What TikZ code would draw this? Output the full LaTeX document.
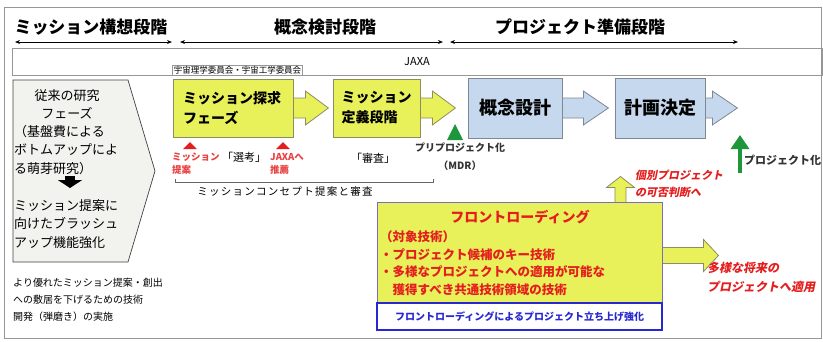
\documentclass[tikz,border=0pt]{standalone}
\usepackage{fontspec}
\setmainfont{Noto Sans CJK JP}
\newfontfamily\slantjp[FakeSlant=0.2]{Noto Sans CJK JP}
\usepackage{tikz}
\usetikzlibrary{positioning, arrows.meta, backgrounds}
\definecolor{boxyellow}{RGB}{232,240,90}
\definecolor{yellowline}{RGB}{140,140,95}
\definecolor{boxblue}{RGB}{198,216,238}
\definecolor{blueline}{RGB}{125,135,150}
\definecolor{flline}{RGB}{120,110,190}
\definecolor{noteblue}{RGB}{40,40,210}
\definecolor{textred}{RGB}{228,30,30}
\definecolor{pjgreen}{RGB}{30,150,60}
\definecolor{frameline}{RGB}{150,150,150}
\definecolor{boxgray}{RGB}{242,242,238}

\begin{document}
\begin{tikzpicture}[x=1pt, y=-1pt,
    stage/.style={font=\fontsize{17}{20}\selectfont\bfseries, inner sep=0pt},
    span/.style={{Stealth[length=5pt,width=4pt]}-{Stealth[length=5pt,width=4pt]}, line width=0.9pt},
    ybox/.style={draw=yellowline, fill=boxyellow, line width=0.8pt, font=\fontsize{14}{20}\selectfont\bfseries, align=left, minimum height=58pt},
    bbox/.style={draw=blueline, fill=boxblue, line width=0.8pt, font=\fontsize{18}{20}\selectfont\bfseries, minimum height=60pt},
    yarrow/.style={draw=yellowline, fill=boxyellow, line width=0.8pt},
    barrow/.style={draw=blueline, fill=boxblue, line width=0.8pt},
    lbtext/.style={font=\fontsize{13}{18.5}\selectfont, inner sep=0pt},
    note/.style={font=\fontsize{10}{17}\selectfont, inner sep=0pt, align=left},
    rednote/.style={font=\fontsize{9.5}{13}\selectfont\bfseries, text=textred!85, inner sep=0pt, align=left},
    slantnote/.style={text=textred, inner sep=0pt, align=left},
    redtri/.style={fill=textred},
]
\useasboundingbox (0,0) rectangle (823,341);
\draw[frameline] (4,7) rectangle (821,338);

% stages
\node[stage] (hd1) at (91,27) {ミッション構想段階};
\node[stage] (hd2) at (325,27) {概念検討段階};
\node[stage] (hd3) at (580,27) {プロジェクト準備段階};
\coordinate (s1a) at (15,42);  \coordinate (s1b) at (172,42);
\coordinate (s2a) at (180,42); \coordinate (s2b) at (443,42);
\coordinate (s3a) at (450,42); \coordinate (s3b) at (738,42);
\draw[span] (s1a) -- (s1b);
\draw[span] (s2a) -- (s2b);
\draw[span] (s3a) -- (s3b);

% JAXA band
\node[draw=frameline, minimum width=810pt, minimum height=27pt, inner sep=0pt,
      font=\fontsize{11}{12}\selectfont] (jaxa) at (417,61.5) {JAXA};
\node[draw=frameline, fill=white, font=\fontsize{8.5}{10}\selectfont, inner sep=1.2pt] (iin) at (237.5,70) {宇宙理学委員会・宇宙工学委員会};

% left phase
\draw[black!75, fill=boxgray, line width=0.7pt] (13,80) -- (128,80) -- (155,171) -- (128,262) -- (13,262) -- cycle;
\node[lbtext, align=center] (lb1) at (67,104.5) {従来の研究\\フェーズ};
\node[lbtext, align=left, anchor=west] (lb2) at (14,150) {（基盤費による\\ボトムアップによ\\る萌芽研究）};
\node[lbtext, align=left, anchor=west] (lb3) at (14,224) {ミッション提案に\\向けたブラッシュ\\アップ機能強化};
\coordinate (dn) at (70,176);
\draw[-{Triangle[width=24pt,length=8pt]}, line width=10pt] (dn) -- ++(0,12);
\node[note, anchor=west] (lbnote) at (13,300) {より優れたミッション提案・創出\\への敷居を下げるための技術\\開発（弾磨き）の実施};

% mission boxes
\node[ybox, text width=100pt, inner xsep=10pt] (tanq) at (233,108) {ミッション探求\\フェーズ};
\node[ybox, text width=70pt, inner xsep=8.5pt] (teigi) at (376.5,108) {ミッション\\定義段階};
\node[bbox, minimum width=94pt] (gainen) at (515,108) {概念設計};
\node[bbox, minimum width=90pt] (keikaku) at (660,108) {計画決定};

% front loading
\node[draw=flline, fill=boxyellow, line width=1pt, minimum width=285pt, minimum height=101pt] (fl) at (519.5,252.5) {};
\node[font=\fontsize{14}{16}\selectfont\bfseries, text=textred] (fltitle) at (520,217) {フロントローディング};
\node[font=\fontsize{12.5}{17.5}\selectfont\bfseries, text=textred, align=left, anchor=north west, inner sep=0pt] (fllist) at (380,231)
    {（対象技術）\\・プロジェクト候補のキー技術\\・多様なプロジェクトへの適用が可能な\\　獲得すべき共通技術領域の技術};
\node[draw=noteblue, line width=1.5pt, fill=white, minimum width=285pt, minimum height=27pt,
      font=\fontsize{10}{12}\selectfont\bfseries, text=noteblue] (flnote) at (519.5,316.5) {フロントローディングによるプロジェクト立ち上げ強化};

\begin{scope}[on background layer]
\draw[yarrow] (tanq.east) ++(-3,-10) -- ++(15,0) -- ++(0,-7) -- ++(23,17) -- ++(-23,17) -- ++(0,-7) -- ++(-15,0) -- cycle;
\draw[yarrow] (teigi.east) ++(-3,-10) -- ++(15,0) -- ++(0,-7) -- ++(23,17) -- ++(-23,17) -- ++(0,-7) -- ++(-15,0) -- cycle;
\draw[barrow] (gainen.east) ++(-3,-10) -- ++(24,0) -- ++(0,-7) -- ++(25,17) -- ++(-25,17) -- ++(0,-7) -- ++(-24,0) -- cycle;
\draw[barrow] (keikaku.east) ++(-3,-10) -- ++(10,0) -- ++(0,-7) -- ++(25,17) -- ++(-25,17) -- ++(0,-7) -- ++(-10,0) -- cycle;
\draw[yarrow] (fl.north east) ++(-47.5,3) -- ++(0,-17) -- ++(-8.5,0) -- ++(14,-11) -- ++(14,11) -- ++(-8.5,0) -- ++(0,17) -- cycle;
\draw[yarrow] (fl.east) ++(-3,-5) -- ++(44,0) -- ++(0,-8) -- ++(15,16) -- ++(-15,16) -- ++(0,-8) -- ++(-44,0) -- cycle;
\end{scope}

% proposals and reviews
\fill[redtri] (183,149) -- (190,142) -- (197,149) -- cycle;
\fill[redtri] (276,149) -- (283,142) -- (290,149) -- cycle;
\node[rednote, anchor=west] (teian) at (172,163.5) {ミッション\\提案};
\node[font=\fontsize{11}{12}\selectfont, inner sep=0pt] (senko) at (244,157) {「選考」};
\node[rednote, anchor=west] (suisen) at (270,163.5) {JAXAへ\\推薦};
\node[font=\fontsize{11}{12}\selectfont, inner sep=0pt] (shinsa) at (373,158) {「審査」};
\coordinate (brL) at (175,182);
\coordinate (brR) at (433,182);
\draw[black!60, line width=0.6pt] (brL) ++(0,-3) -- (brL) -- (brR) -- ++(0,-3);
\node[font=\fontsize{10.5}{12}\selectfont\addfontfeature{LetterSpace=12}, inner sep=0pt] (concept) at (285,192) {ミッションコンセプト提案と審査};

% project milestones
\fill[pjgreen] (447,140) -- (455,124) -- (463,140) -- cycle;
\node[font=\fontsize{10}{18}\selectfont\bfseries, text=black!80, align=center, inner sep=0pt] (mdr) at (460,157) {プリプロジェクト化\\（MDR）};
\coordinate (pjbot) at (740,173);
\draw[-{Triangle[width=18pt,length=14pt]}, line width=4pt, pjgreen] (pjbot) -- ++(0,-38);
\node[font=\fontsize{11}{12}\selectfont\bfseries, text=black!80, anchor=west, inner sep=0pt] (pj) at (744,160) {プロジェクト化};

\node[slantnote, font=\fontsize{11}{17}\selectfont\slantjp\bfseries, anchor=west] (kobetsu) at (635,183.5) {個別プロジェクト\\の可否判断へ};
\node[slantnote, font=\fontsize{12}{19}\selectfont\slantjp\bfseries, anchor=west] (tayou) at (707,277.5) {多様な将来の\\プロジェクトへ適用};
\end{tikzpicture}
\end{document}
